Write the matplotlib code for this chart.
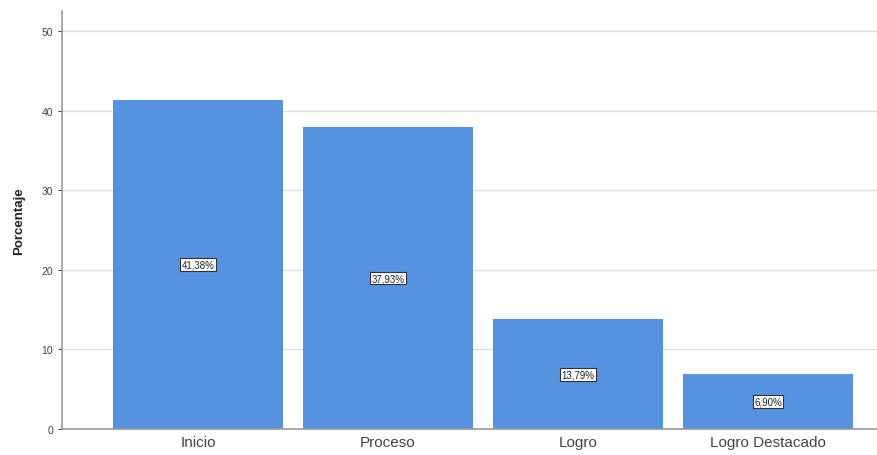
import matplotlib.pyplot as plt

plt.rcParams['font.family'] = ['Liberation Sans', 'DejaVu Sans']

categorias = ["Inicio", "Proceso", "Logro", "Logro Destacado"]
porcentajes = [41.38, 37.93, 13.79, 6.90]
etiquetas = ["41,38%", "37,93%", "13,79%", "6,90%"]

dpi = 100
fig = plt.figure(figsize=(877 / dpi, 456 / dpi), dpi=dpi)
ax = fig.add_axes([62 / 877, 26 / 456, 1 - 62 / 877, (430 - 12) / 456])

xs = range(len(categorias))
ax.bar(xs, porcentajes, width=0.895, color="#5592e0", zorder=2)

for x, v, t in zip(xs, porcentajes, etiquetas):
    ax.text(x, v / 2, t, ha="center", va="center", fontsize=7, color="#222222",
            bbox=dict(boxstyle="square,pad=0.15", fc="white", ec="#333333", lw=0.8),
            zorder=3)

ax.set_xlim(-0.716, 3.574)
ax.set_ylim(0, 52.5)
ax.set_yticks([0, 10, 20, 30, 40, 50])
ax.set_xticks(list(xs))
ax.set_xticklabels(categorias, fontsize=11, color="#444444")
ax.tick_params(axis="y", labelsize=7.5, colors="#444444", length=3)
ax.tick_params(axis="x", length=0, pad=4)
ax.yaxis.grid(True, color="#dddddd", lw=1, zorder=0)

for s in ["top", "right"]:
    ax.spines[s].set_visible(False)
for s in ["left", "bottom"]:
    ax.spines[s].set_color("#999999")
    ax.spines[s].set_linewidth(1.2)

ax.set_ylabel("Porcentaje", fontsize=9.5, fontweight="bold", color="#222222", labelpad=12)

fig.savefig("out.png", dpi=dpi)
